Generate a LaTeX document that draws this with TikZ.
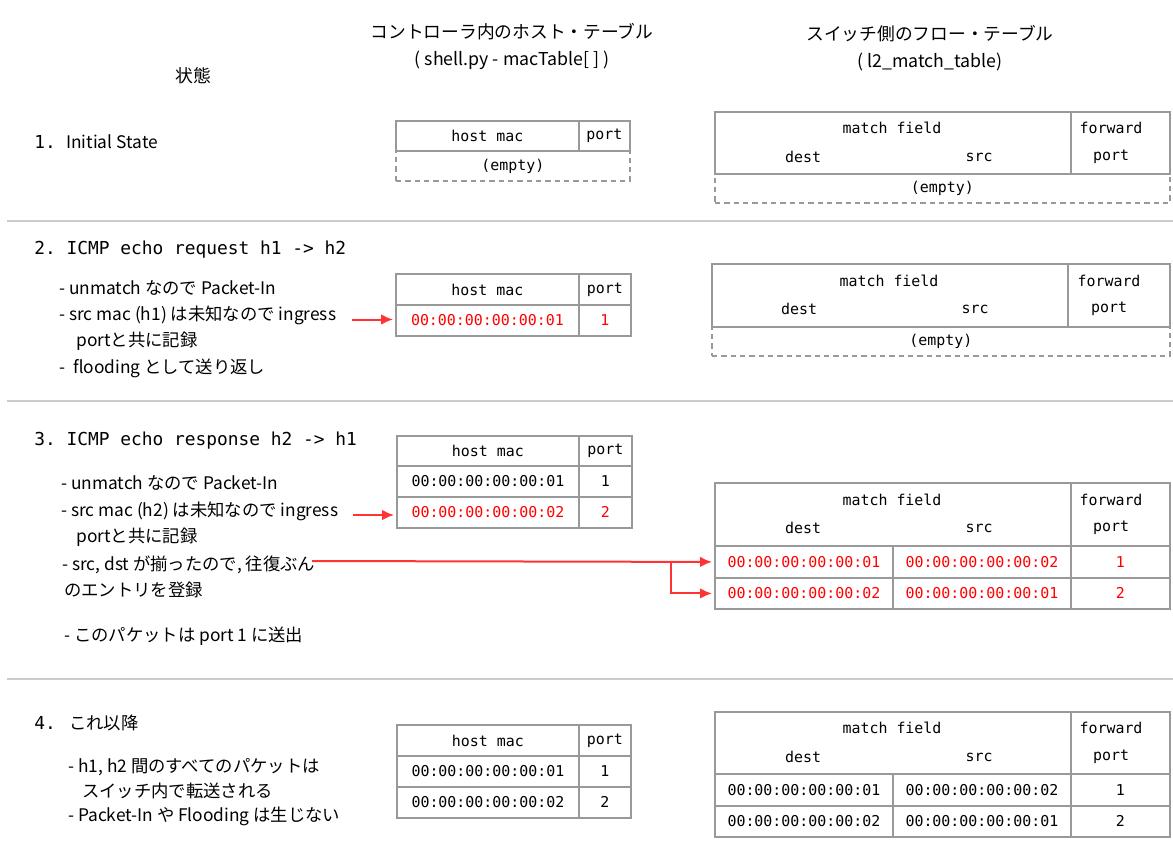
\documentclass[tikz,border=0pt]{standalone}
\usepackage{fontspec}
\setmainfont{Noto Sans CJK JP}
\setmonofont{DejaVu Sans Mono}
\usetikzlibrary{arrows.meta}
\definecolor{tblgray}{HTML}{999999}
\definecolor{sepgray}{HTML}{CCCCCC}
\definecolor{myred}{HTML}{FF0000}
\definecolor{arrred}{HTML}{FF3333}
\tikzset{
  sz/.style 2 args={minimum width=#1*0.75pt, minimum height=#2*0.75pt},
  cell/.style={draw=tblgray, line width=1.4pt, inner sep=0pt, anchor=north west, font=\ttfamily\fontsize{11.2}{13}\selectfont},
  emptycell/.style={cell, dashed, dash pattern=on 4pt off 3pt},
  tt/.style={inner sep=0pt, font=\ttfamily\fontsize{11.2}{13}\selectfont},
  hdr/.style={inner sep=0pt, font=\fontsize{13.3}{15}\selectfont},
  body/.style={inner sep=0pt, anchor=west, font=\fontsize{13}{15}\selectfont},
  rowtitle/.style={inner sep=0pt, anchor=west, font=\ttfamily\fontsize{13.4}{16}\selectfont},
  sepline/.style={draw=sepgray, line width=1pt},
  redarrow/.style={draw=arrred, line width=1.5pt, shorten >=1.5pt, -{Latex[length=9pt, width=8pt]}},
  redtxt/.style={text=myred}
}
\begin{document}
\begin{tikzpicture}[x=0.75pt, y=-0.75pt]
\path[use as bounding box] (0,0) rectangle (1173,853);

% headers
\node[hdr] (hctrl1) at (512,32) {コントローラ内のホスト・テーブル};
\node[hdr] (hctrl2) at (512,60) {( shell.py - macTable[ ] )};
\node[hdr] (hstate) at (193,76) {状態};
\node[hdr] (hsw1) at (930,34) {スイッチ側のフロー・テーブル};
\node[hdr] (hsw2) at (930,62) {( l2\_match\_table)};

% separators
\draw[sepline] (7,221) -- (1173,221);
\draw[sepline] (7,401) -- (1173,401);
\draw[sepline] (7,679) -- (1173,679);

% ===== Row 1 =====
\node[rowtitle] (t1n) at (34,142) {1.};
\node[body] (t1) at (66,142) {Initial State};

\node[emptycell, sz={234}{30}] (h1e) at (395,150) {(empty)};
\node[cell, sz={183}{30}] (h1a) at (395,120) {host mac};
\node[cell, sz={51}{30}] (h1b) at (578,120) {port};

\node[emptycell, sz={455}{29}] (f1e) at (714,173) {(empty)};
\node[cell, sz={356}{62}] (f1m) at (714,111) {};
\node[cell, sz={99}{62}] (f1p) at (1070,111) {};
\node[tt] (f1mt) at (892,128) {match field};
\node[tt] (f1d) at (803,157) {dest};
\node[tt] (f1s) at (979,157) {src};
\node[tt] (f1f) at (1111,128) {forward};
\node[tt] (f1pt) at (1111,157) {port};

% ===== Row 2 =====
\node[rowtitle] (t2) at (34,250) {2. ICMP echo request h1 -> h2};
\node[body] (b21) at (59,288) {- unmatch なので Packet-In};
\node[body] (b22) at (59,315) {- src mac (h1) は未知なので ingress};
\node[body] (b23) at (76,341) {portと共に記録};
\node[body] (b24) at (59,368) {-\ \ flooding として送り返し};

\node[cell, sz={183}{31}] (h2a) at (395,273) {host mac};
\node[cell, sz={52}{31}] (h2b) at (578,273) {port};
\node[cell, sz={183}{31}, redtxt] (h2r1a) at (395,304) {00:00:00:00:00:01};
\node[cell, sz={52}{31}, redtxt] (h2r1b) at (578,304) {1};

\coordinate (a2s) at (352,319.5);
\draw[redarrow] (a2s) -- (a2s -| h2r1a.west);

\node[emptycell, sz={458}{29}] (f2e) at (711,326) {(empty)};
\node[cell, sz={356}{63}] (f2m) at (711,263) {};
\node[cell, sz={102}{63}] (f2p) at (1067,263) {};
\node[tt] (f2mt) at (889,281) {match field};
\node[tt] (f2d) at (799,309) {dest};
\node[tt] (f2s) at (975,309) {src};
\node[tt] (f2f) at (1109,281) {forward};
\node[tt] (f2pt) at (1109,309) {port};

% ===== Row 3 =====
\node[rowtitle] (t3) at (34,441) {3. ICMP echo response h2 -> h1};
\node[body] (b31) at (61,483) {- unmatch なので Packet-In};
\node[body] (b32) at (61,511) {- src mac (h2) は未知なので ingress};
\node[body] (b33) at (76,537) {portと共に記録};
\node[body] (b34) at (62,565) {- src, dst が揃ったので, 往復ぶん};
\node[body] (b35) at (64,590) {のエントリを登録};
\node[body] (b36) at (64,636) {- このパケットは port 1 に送出};

\node[cell, sz={182}{30}] (h3a) at (396,435) {host mac};
\node[cell, sz={53}{30}] (h3b) at (578,435) {port};
\node[cell, sz={182}{31}] (h3r1a) at (396,465) {00:00:00:00:00:01};
\node[cell, sz={53}{31}] (h3r1b) at (578,465) {1};
\node[cell, sz={182}{31}, redtxt] (h3r2a) at (396,496) {00:00:00:00:00:02};
\node[cell, sz={53}{31}, redtxt] (h3r2b) at (578,496) {2};

\coordinate (a3s) at (353,515);
\draw[redarrow] (a3s) -- (a3s -| h3r2a.west);

\node[cell, sz={356}{63}] (f3m) at (714,482) {};
\node[cell, sz={99}{63}] (f3p) at (1070,482) {};
\node[tt] (f3mt) at (892,500) {match field};
\node[tt] (f3d) at (803,528) {dest};
\node[tt] (f3s) at (979,528) {src};
\node[tt] (f3f) at (1111,500) {forward};
\node[tt] (f3pt) at (1111,528) {port};
\node[cell, sz={178}{32}, redtxt] (f3r1a) at (714,545) {00:00:00:00:00:01};
\node[cell, sz={178}{32}, redtxt] (f3r1b) at (892,545) {00:00:00:00:00:02};
\node[cell, sz={99}{32}, redtxt] (f3r1c) at (1070,545) {1};
\node[cell, sz={178}{31}, redtxt] (f3r2a) at (714,577) {00:00:00:00:00:02};
\node[cell, sz={178}{31}, redtxt] (f3r2b) at (892,577) {00:00:00:00:00:01};
\node[cell, sz={99}{31}, redtxt] (f3r2c) at (1070,577) {2};

\coordinate (a3l) at (312,561);
\coordinate (a3k) at (671,561);
\draw[redarrow] (a3l) -- (f3r1a.west);
\draw[redarrow] (a3k) |- (f3r2a.west);

% ===== Row 4 =====
\node[rowtitle] (t4n) at (34,723) {4.};
\node[body] (t4) at (69,723) {これ以降};
\node[body] (b41) at (68,767) {- h1, h2 間のすべてのパケットは};
\node[body] (b42) at (82,791) {スイッチ内で転送される};
\node[body] (b43) at (68,816) {- Packet-In や Flooding は生じない};

\node[cell, sz={182}{31}] (h4a) at (396,724) {host mac};
\node[cell, sz={52}{31}] (h4b) at (578,724) {port};
\node[cell, sz={182}{31}] (h4r1a) at (396,755) {00:00:00:00:00:01};
\node[cell, sz={52}{31}] (h4r1b) at (578,755) {1};
\node[cell, sz={182}{31}] (h4r2a) at (396,786) {00:00:00:00:00:02};
\node[cell, sz={52}{31}] (h4r2b) at (578,786) {2};

\node[cell, sz={356}{62}] (f4m) at (714,711) {};
\node[cell, sz={99}{62}] (f4p) at (1070,711) {};
\node[tt] (f4mt) at (892,728) {match field};
\node[tt] (f4d) at (803,757) {dest};
\node[tt] (f4s) at (979,757) {src};
\node[tt] (f4f) at (1111,728) {forward};
\node[tt] (f4pt) at (1111,757) {port};
\node[cell, sz={178}{32}] (f4r1a) at (714,773) {00:00:00:00:00:01};
\node[cell, sz={178}{32}] (f4r1b) at (892,773) {00:00:00:00:00:02};
\node[cell, sz={99}{32}] (f4r1c) at (1070,773) {1};
\node[cell, sz={178}{31}] (f4r2a) at (714,805) {00:00:00:00:00:02};
\node[cell, sz={178}{31}] (f4r2b) at (892,805) {00:00:00:00:00:01};
\node[cell, sz={99}{31}] (f4r2c) at (1070,805) {2};
\end{tikzpicture}
\end{document}
